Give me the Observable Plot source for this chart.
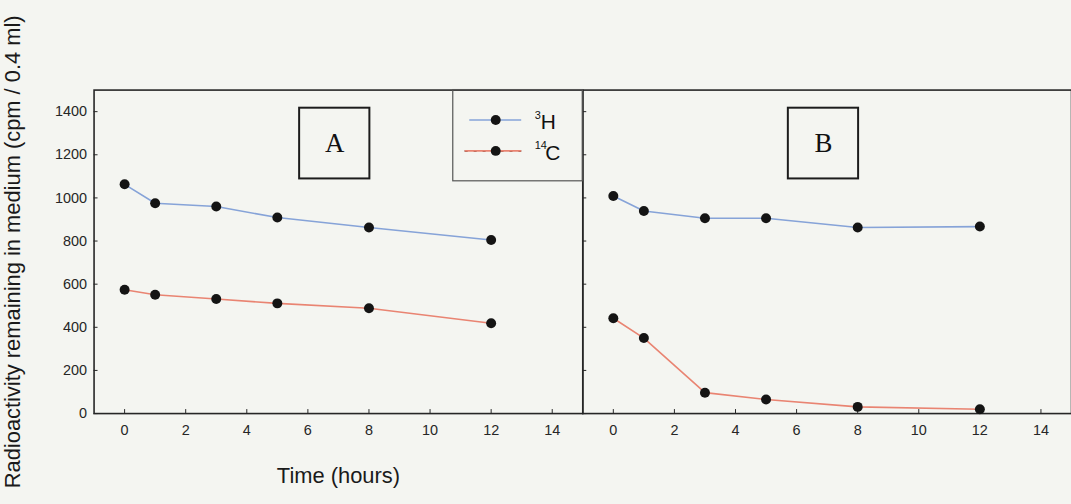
<!DOCTYPE html>
<html><head><meta charset="utf-8">
<script src="https://cdn.jsdelivr.net/npm/d3@7"></script>
<script src="https://cdn.jsdelivr.net/npm/@observablehq/plot@0.6"></script>
<style>
html,body{margin:0;padding:0;background:#f4f5f1;overflow:hidden;width:1071px;height:504px}
#chart{position:absolute;left:0;top:0}
</style></head><body><div id="chart"></div>
<script>
// ---- data ----
const panels = ["A", "B"];
const hours = [0, 1, 3, 5, 8, 12];
const h3A = [1063, 975, 960, 909, 863, 805];
const c14A = [574, 551, 531, 511, 488, 419];
const h3B = [1009, 939, 906, 906, 863, 867];
const c14B = [442, 350, 97, 65, 31, 20];
const seriesNames = ["3H", "14C"];
const seriesSup = ["3", "14"];
const seriesMain = ["H", "C"];
const seriesColors = ["#86a3d8", "#e98472"];
const xTicks = [0, 2, 4, 6, 8, 10, 12, 14];
const yTicks = [0, 200, 400, 600, 800, 1000, 1200, 1400];
const xLabel = "Time (hours)";
const yLabel = "Radioactivity remaining in medium (cpm / 0.4 ml)";

const valuesBy = {A: {"3H": h3A, "14C": c14A}, B: {"3H": h3B, "14C": c14B}};
const rows = [];
for (const p of panels) for (const s of seriesNames)
  hours.forEach((h, i) => rows.push({panel: p, series: s, hour: h, value: valuesBy[p][s][i]}));

// legend layout (annotation positions in panel A data space)
const legendRows = seriesNames.map((s, i) => ({
  series: s, sup: seriesSup[i], main: seriesMain[i],
  y: [1361, 1218][i], x1: [11.3, 11.15][i], mainX: [13.62, 13.77][i]
}));

const font = "'Liberation Sans', Arial, sans-serif";
const ink = "#262626";

const chart = Plot.plot({
  width: 1076, height: 504,
  marginLeft: 94, marginRight: 0, marginTop: 90, marginBottom: 89,
  style: {background: "transparent", fontFamily: font, color: ink},
  fx: {domain: panels, padding: 0, axis: null},
  x: {domain: [-1, 15]},
  y: {domain: [0, 1500]},
  color: {domain: seriesNames, range: seriesColors},
  marks: [
    Plot.frame({stroke: ink, strokeWidth: 1.6}),
    Plot.axisY(yTicks, {tickSize: 0, tickPadding: 7, tickFormat: d => String(d), label: null, fontSize: 14.5, fill: ink}),
    Plot.axisY(yTicks, {tickSize: -4, tickFormat: () => "", label: null, facetAnchor: null, stroke: ink}),
    Plot.axisX(xTicks, {tickSize: 0, tickPadding: 11, tickFormat: d => String(d), label: null, fontSize: 14.5, fill: ink}),
    Plot.axisX(xTicks, {tickSize: -4, tickFormat: () => "", label: null, stroke: ink}),
    // panel label boxes
    Plot.rect(panels, {fx: d => d, x1: 5.73, x2: 8.03, y1: 1088, y2: 1416, fill: "none", stroke: "#1c1c1c", strokeWidth: 2}),
    Plot.text(panels, {fx: d => d, text: d => d, x: 6.88, y: 1252, fontFamily: "'Liberation Serif', 'Times New Roman', serif", fontSize: 27, fill: "#111"}),
    // data
    Plot.line(rows, {fx: "panel", x: "hour", y: "value", z: "series", stroke: "series", strokeWidth: 1.6}),
    Plot.dot(rows, {fx: "panel", x: "hour", y: "value", r: 5, fill: "#141414"}),
    // legend
    Plot.rect(["A"], {fx: d => d, x1: 10.76, x2: 15, y1: 1077, y2: 1500, fill: "none", stroke: "#555", strokeWidth: 1.2}),
    Plot.ruleY(legendRows.filter(d => d.series === "14C"), {fx: () => "A", x1: "x1", x2: 13.0, y: "y", stroke: "#5a3a33", strokeWidth: 2, strokeDasharray: "3,6"}),
    Plot.ruleY(legendRows, {fx: () => "A", x1: "x1", x2: 13.0, y: "y", stroke: "series", strokeWidth: 1.6}),
    Plot.dot(legendRows, {fx: () => "A", x: 12.15, y: "y", r: 5, fill: "#141414"}),
    Plot.text(legendRows, {fx: () => "A", x: 13.425, y: "y", text: "sup", dy: -5, textAnchor: "start", fontSize: 11, fill: "#111"}),
    Plot.text(legendRows, {fx: () => "A", x: "mainX", y: "y", text: "main", dy: 2, textAnchor: "start", fontSize: 21, fill: "#111"}),
    // axis titles
    Plot.text([xLabel], {fx: () => "A", frameAnchor: "bottom", dy: 63, lineAnchor: "middle", fontSize: 22, fill: "#1a1a1a"}),
    Plot.text([yLabel], {fx: () => "A", frameAnchor: "left", dx: -81, rotate: -90, textAnchor: "middle", lineAnchor: "middle", fontSize: 22, fill: "#1a1a1a"})
  ]
});
document.getElementById("chart").appendChild(chart);
</script>
</body></html>
